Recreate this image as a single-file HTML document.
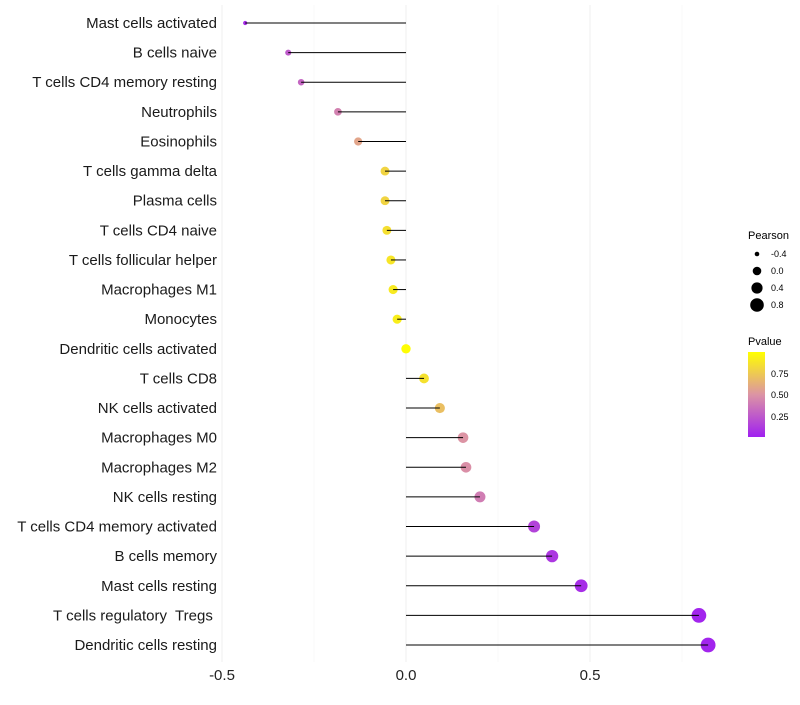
<!DOCTYPE html>
<html><head><meta charset="utf-8"><style>
body{margin:0;background:#fff;font-family:"Liberation Sans",sans-serif}
</style></head><body>
<svg id="chart" width="800" height="700" xmlns="http://www.w3.org/2000/svg">
<defs><linearGradient id="pg" x1="0" y1="1" x2="0" y2="0">
<stop offset="0" stop-color="#A020F0"/><stop offset="0.5" stop-color="#DC94A4"/><stop offset="1" stop-color="#FFFF00"/></linearGradient></defs>
<g id="grid"></g><g id="dots"></g><g id="marks"></g><g id="labels"></g>
<g font-size="9" fill="#000">
<text x="748" y="239" font-size="11">Pearson</text>
<circle cx="757" cy="254" r="2.3"/><text x="771" y="257">-0.4</text>
<circle cx="757" cy="271" r="4.3"/><text x="771" y="274">0.0</text>
<circle cx="757" cy="288" r="5.6"/><text x="771" y="291">0.4</text>
<circle cx="757" cy="305" r="6.8"/><text x="771" y="308">0.8</text>
</g>
<g font-size="9">
<text x="748" y="345" font-size="11">Pvalue</text>
<rect x="748" y="352" width="17" height="85" fill="url(#pg)"/>
<text x="771" y="377">0.75</text><text x="771" y="398">0.50</text><text x="771" y="420">0.25</text>
</g>
</svg>
<script>
const cats=["Mast cells activated","B cells naive","T cells CD4 memory resting","Neutrophils","Eosinophils","T cells gamma delta","Plasma cells","T cells CD4 naive","T cells follicular helper","Macrophages M1","Monocytes","Dendritic cells activated","T cells CD8","NK cells activated","Macrophages M0","Macrophages M2","NK cells resting","T cells CD4 memory activated","B cells memory","Mast cells resting","T cells regulatory  Tregs ","Dendritic cells resting"];
const pearson=[-0.437,-0.32,-0.285,-0.185,-0.13,-0.057,-0.057,-0.052,-0.041,-0.035,-0.024,0.0,0.049,0.092,0.155,0.163,0.201,0.348,0.397,0.476,0.796,0.821];
const pvalue=[0.05,0.25,0.3,0.42,0.58,0.8,0.8,0.85,0.88,0.9,0.92,0.99,0.86,0.7,0.5,0.48,0.4,0.15,0.1,0.06,0.02,0.02];
const xticks=[-0.5,0,0.5];
const xtickLabels=["-0.5","0.0","0.5"];
const NS="http://www.w3.org/2000/svg";
const x=v=>406+v*368;
const y=i=>23+i*(622/21);
function mk(t,a,p){const e=document.createElementNS(NS,t);for(const k in a)e.setAttribute(k,a[k]);p.appendChild(e);return e;}
function lerp(a,b,t){return a.map((v,i)=>Math.round(v+(b[i]-v)*t));}
function col(p){const c0=[160,32,240],c1=[220,148,164],c2=[255,255,0];const t=Math.max(0,Math.min(1,p));const c=t<0.5?lerp(c0,c1,t/0.5):lerp(c1,c2,(t-0.5)/0.5);return `rgb(${c})`;}
const rad=v=>Math.sqrt(Math.max(2,22+40*v));
const g=document.getElementById('grid'),m=document.getElementById('marks'),dg=document.getElementById('dots'),l=document.getElementById('labels');
[-0.25,0.25,0.75].forEach(v=>{const e=mk('line',{x1:x(v),x2:x(v),y1:5,y2:662,stroke:'#f3f3f3','stroke-width':0.5},g);

});
xticks.forEach((v,i)=>{const e=mk('line',{x1:x(v),x2:x(v),y1:5,y2:662,stroke:'#ebebeb','stroke-width':0.8},g);


const t=mk('text',{x:x(v),y:680,'text-anchor':'middle','font-size':15,fill:'#222'},l);t.textContent=xtickLabels[i];

});
cats.forEach((c,i)=>{
const t=mk('text',{x:217,y:y(i)+5,'text-anchor':'end','font-size':15,fill:'#1a1a1a',style:'white-space:pre'},l);t.textContent=c;


const d=mk('circle',{cx:x(pearson[i]),cy:y(i),r:rad(pearson[i]),fill:col(pvalue[i])},dg);


const ln=mk('line',{x1:x(0),x2:x(pearson[i]),y1:y(i),y2:y(i),stroke:'#000','stroke-width':1},m);


});
</script>
</body></html>
